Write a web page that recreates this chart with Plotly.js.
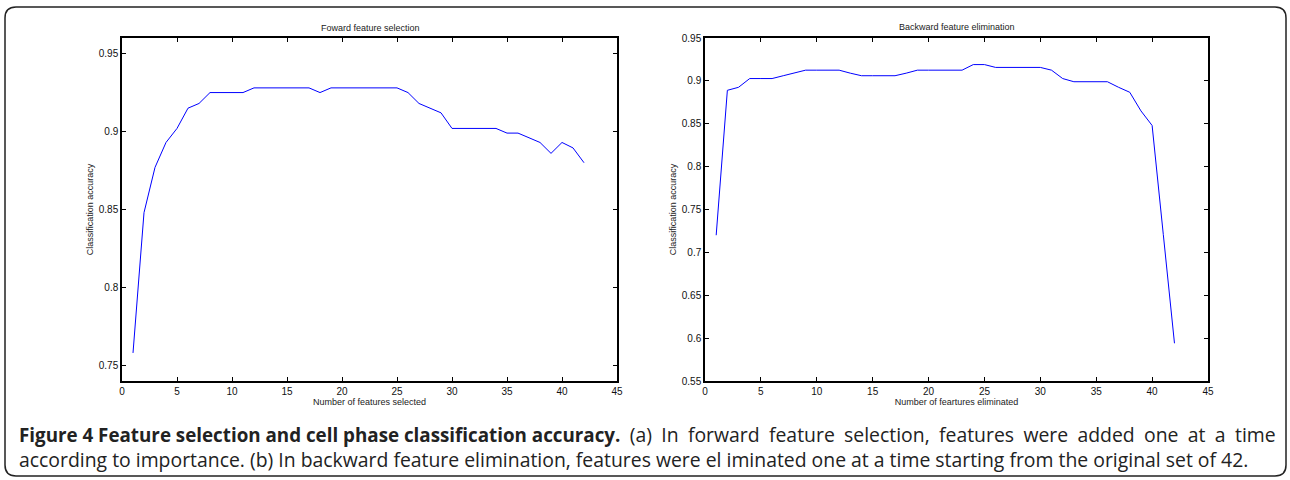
<!DOCTYPE html>
<html>
<head>
<meta charset="utf-8">
<script src="https://cdn.plot.ly/plotly-3.0.1.min.js"></script>
<style>html,body{margin:0;padding:0;background:#fff;}#chart{width:1290px;height:480px;}</style>
</head>
<body>
<div id="chart"></div>
<script>
// Number of features (x) for both panels
const featureCount = [1,2,3,4,5,6,7,8,9,10,11,12,13,14,15,16,17,18,19,20,21,22,23,24,25,26,27,28,29,30,31,32,33,34,35,36,37,38,39,40,41,42];
// (a) Forward feature selection accuracy
const forwardAccuracy = [0.758,0.848,0.877,0.893,0.902,0.915,0.918,0.925,0.925,0.925,0.925,0.928,0.928,0.928,0.928,0.928,0.928,0.925,0.928,0.928,0.928,0.928,0.928,0.928,0.928,0.925,0.918,0.915,0.912,0.902,0.902,0.902,0.902,0.902,0.899,0.899,0.896,0.893,0.886,0.893,0.8895,0.880];
// (b) Backward feature elimination accuracy
const backwardAccuracy = [0.720,0.889,0.8925,0.9027,0.9027,0.9027,0.906,0.909,0.9125,0.9125,0.9125,0.9125,0.909,0.906,0.906,0.906,0.906,0.909,0.9125,0.9125,0.9125,0.9125,0.9125,0.919,0.919,0.9157,0.9157,0.9157,0.9157,0.9157,0.9125,0.9027,0.899,0.899,0.899,0.899,0.8925,0.8867,0.865,0.848,0.721,0.594];

const xTicks = [0,5,10,15,20,25,30,35,40,45];
const yTicksA = [0.75,0.8,0.85,0.9,0.95];
const yTicksB = [0.55,0.6,0.65,0.7,0.75,0.8,0.85,0.9,0.95];

const panelTitles = ["Foward feature selection","Backward feature elimination"];
const xTitles = ["Number of features selected","Number of feartures eliminated"];
const yTitle = "Classification accuracy";
const captionBold = "Figure 4 Feature selection and cell phase classification accuracy.";
const captionRest1 = "(a) In forward feature selection, features were added one at a time";
const captionLine2 = "according to importance. (b) In backward feature elimination, features were el iminated one at a time starting from the original set of 42.";

const W = 1290, H = 480;
const px = v => v / W, py = v => 1 - v / H;

const axisFont = {family: "Liberation Sans, Arial, sans-serif", size: 10, color: "#111"};
const smallFont = {family: "Liberation Sans, Arial, sans-serif", size: 9, color: "#222"};

function xAxis(domain, title, anchor) {
  return {
    domain: domain, range: [0,45], tickvals: xTicks, ticktext: xTicks.map(String),
    ticks: "inside", ticklen: 4, tickwidth: 1, tickcolor: "#000",
    showline: true, linecolor: "#000", linewidth: 1.5, mirror: "allticks",
    showgrid: false, zeroline: false, tickfont: axisFont, anchor: anchor,
    title: {text: title, font: smallFont, standoff: 2}
  };
}
function yAxis(domain, range, ticks, anchor) {
  return {
    domain: domain, range: range, tickvals: ticks, ticktext: ticks.map(String),
    ticks: "inside", ticklen: 4, tickwidth: 1, tickcolor: "#000",
    showline: true, linecolor: "#000", linewidth: 1.5, mirror: "allticks",
    showgrid: false, zeroline: false, tickfont: axisFont, anchor: anchor,
    title: {text: yTitle, font: smallFont, standoff: 4}
  };
}

const traces = [
  {x: featureCount, y: forwardAccuracy, type: "scatter", mode: "lines",
   line: {color: "#0000ff", width: 1}, xaxis: "x", yaxis: "y", hoverinfo: "x+y"},
  {x: featureCount, y: backwardAccuracy, type: "scatter", mode: "lines",
   line: {color: "#0000ff", width: 1}, xaxis: "x2", yaxis: "y2", hoverinfo: "x+y"}
];

const yDom = [py(381), py(38)];
const r = 11, L = 5, R = 1286, T = 7, B = 476;
const framePath = `M ${px(L)},${py(T+r)} Q ${px(L)},${py(T)} ${px(L+r)},${py(T)} L ${px(R-r)},${py(T)} Q ${px(R)},${py(T)} ${px(R)},${py(T+r)} L ${px(R)},${py(B-r)} Q ${px(R)},${py(B)} ${px(R-r)},${py(B)} L ${px(L+r)},${py(B)} Q ${px(L)},${py(B)} ${px(L)},${py(B-r)} Z`;

const captionFont = {family: "Open Sans, Noto Sans, sans-serif", size: 19.4, color: "#222"};
const captionText =
  '<span style="font-size:18.8px"><b>' + captionBold + '</b></span>' +
  '<span style="word-spacing:4.3px"> ' + captionRest1 + '</span>' +
  '<br>' + captionLine2;

const layout = {
  width: W, height: H, showlegend: false,
  margin: {l: 0, r: 0, t: 0, b: 0},
  paper_bgcolor: "#fff", plot_bgcolor: "#fff",
  xaxis: xAxis([px(122), px(617)], xTitles[0], "y"),
  yaxis: yAxis(yDom, [0.74, 0.96], yTicksA, "x"),
  xaxis2: xAxis([px(705), px(1208)], xTitles[1], "y2"),
  yaxis2: yAxis(yDom, [0.55, 0.95], yTicksB, "x2"),
  shapes: [{type: "path", xref: "paper", yref: "paper", path: framePath,
            line: {color: "#222", width: 1.5}, fillcolor: "rgba(0,0,0,0)"}],
  annotations: [
    {text: panelTitles[0], x: px(370), y: py(28), xref: "paper", yref: "paper", showarrow: false, font: smallFont, xanchor: "center", yanchor: "middle"},
    {text: panelTitles[1], x: px(957), y: py(27), xref: "paper", yref: "paper", showarrow: false, font: smallFont, xanchor: "center", yanchor: "middle"},
    {text: captionText, x: px(17), y: py(447), xref: "paper", yref: "paper", showarrow: false, font: captionFont, xanchor: "left", yanchor: "middle", align: "left"}
  ]
};

Plotly.newPlot("chart", traces, layout, {displayModeBar: false, staticPlot: false});
</script>
</body>
</html>
